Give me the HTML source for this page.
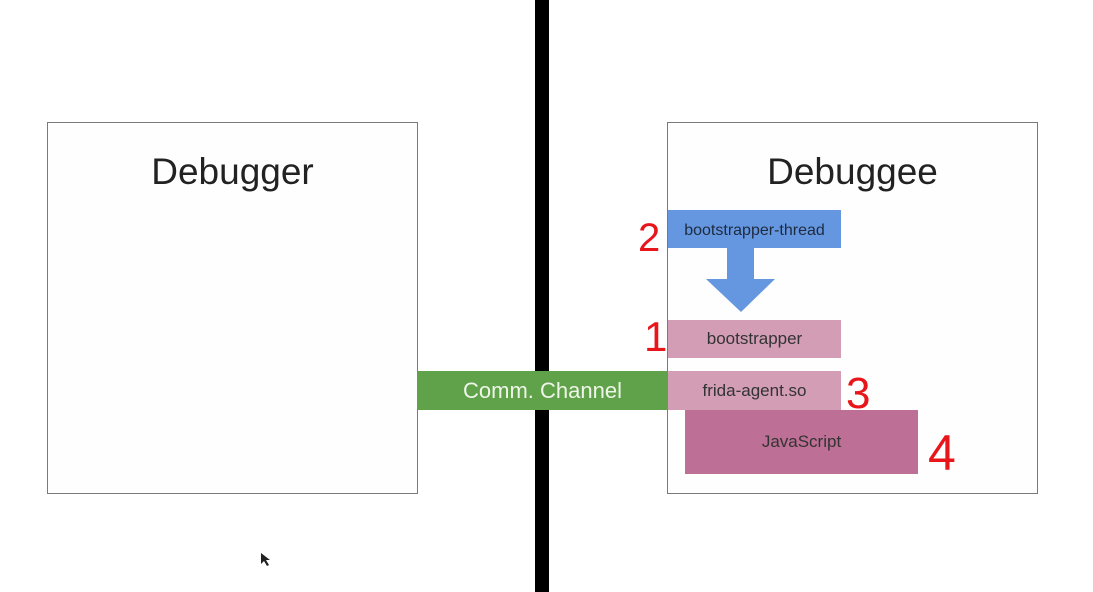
<!DOCTYPE html>
<html><head><style>
body{margin:0;width:1093px;height:592px;background:#fff;position:relative;overflow:hidden;font-family:"Liberation Sans","DejaVu Sans",sans-serif}
div{position:absolute;box-sizing:border-box}
.box{border:1.5px solid #7a7a7a;background:#fefefe}
.t{display:flex;align-items:center;justify-content:center;color:#333}
.n{color:#e8161a;font-family:"Liberation Sans",sans-serif}
</style></head><body>
<div class="box" style="left:47px;top:122px;width:371px;height:372px"></div>
<div class="box" style="left:667px;top:122px;width:371px;height:372px"></div>
<div class="t" style="left:47px;top:148px;width:371px;height:48px;font-size:37px;color:#222">Debugger</div>
<div class="t" style="left:667px;top:148px;width:371px;height:48px;font-size:37px;color:#222">Debuggee</div>
<div style="left:535px;top:0;width:14px;height:592px;background:#000"></div>
<div class="t" style="left:417px;top:371px;width:251px;height:39px;background:#5fa24a;color:#eef5e8;font-size:22px">Comm. Channel</div>
<div class="t" style="left:668px;top:210px;width:173px;height:38px;padding-top:4px;background:#6597e0;font-size:16px;color:#1e2a3e">bootstrapper-thread</div>
<svg style="position:absolute;left:700px;top:247px" width="85" height="70"><polygon points="27,0 54,0 54,32 75,32 41,65 6,32 27,32" fill="#6597e0"/></svg>
<div class="t" style="left:668px;top:320px;width:173px;height:38px;background:#d29db5;font-size:17px">bootstrapper</div>
<div class="t" style="left:668px;top:371px;width:173px;height:39px;background:#d29db5;font-size:17px">frida-agent.so</div>
<div class="t" style="left:685px;top:410px;width:233px;height:64px;background:#bd6f95;font-size:17px">JavaScript</div>
<div class="n" style="left:638px;top:216px;font-size:40px">2</div>
<div class="n" style="left:644px;top:313px;font-size:42px">1</div>
<div class="n" style="left:846px;top:369px;font-size:44px">3</div>
<div class="n" style="left:928px;top:424px;font-size:50px">4</div>
<svg style="position:absolute;left:260px;top:552px" width="12" height="16"><polygon points="1,1 1,12 4,9 7,14 9,13 6,8 10,8" fill="#222"/></svg>
</body></html>
